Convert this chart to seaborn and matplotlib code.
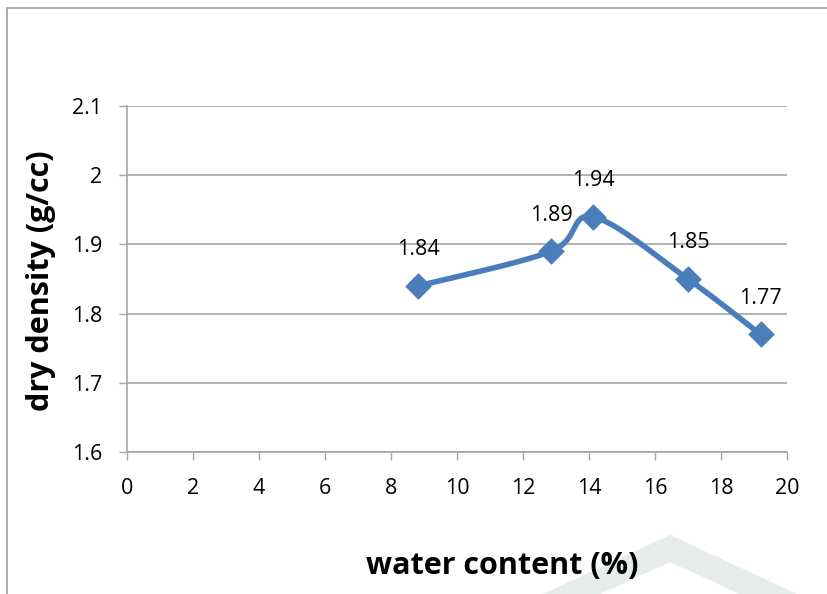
import numpy as np
import pandas as pd
import seaborn as sns
import matplotlib
matplotlib.use("Agg")
import matplotlib.pyplot as plt
from matplotlib.patches import Polygon, Rectangle

# Compaction test results
water_content = [8.82, 12.85, 14.12, 17.0, 19.2]
dry_density = [1.84, 1.89, 1.94, 1.85, 1.77]
x_ticks = [0, 2, 4, 6, 8, 10, 12, 14, 16, 18, 20]
y_ticks = [1.6, 1.7, 1.8, 1.9, 2.0, 2.1]
y_tick_labels = ["1.6", "1.7", "1.8", "1.9", "2", "2.1"]

LINE_BLUE = "#4A7EBB"
GRID_GREY = "#A6A6A6"

sns.set_theme(style="white")
plt.rcParams["font.family"] = ["Open Sans", "DejaVu Sans"]

fig = plt.figure(figsize=(8.28, 5.94), dpi=100)
ax = fig.add_axes([0.1534, 0.239, 0.797, 0.5825])
ax.set_xlim(0, 20)
ax.set_ylim(1.6, 2.1)


def smooth_curve(ax, xs, ys, n=40):
    """Bezier smoothing through the points, computed in display space."""
    fig.canvas.draw()
    pts = ax.transData.transform(np.column_stack([xs, ys]))
    out = []
    m = len(pts)
    for i in range(m - 1):
        p0 = pts[i - 1] if i > 0 else pts[i]
        p1 = pts[i]
        p2 = pts[i + 1]
        p3 = pts[i + 2] if i + 2 < m else pts[i + 1]
        c1 = p1 + (p2 - p0) / 6.0
        c2 = p2 - (p3 - p1) / 6.0
        t = np.linspace(0, 1, n)[:, None]
        seg = ((1 - t) ** 3) * p1 + 3 * ((1 - t) ** 2) * t * c1 + 3 * (1 - t) * t ** 2 * c2 + t ** 3 * p2
        out.append(seg if i == 0 else seg[1:])
    curve = np.vstack(out)
    return ax.transData.inverted().transform(curve)


curve = smooth_curve(ax, water_content, dry_density)
curve_df = pd.DataFrame({"w": curve[:, 0], "d": curve[:, 1]})
sns.lineplot(data=curve_df, x="w", y="d", sort=False, color=LINE_BLUE,
             linewidth=4, ax=ax, zorder=3)

pts_df = pd.DataFrame({"w": water_content, "d": dry_density})
sns.scatterplot(data=pts_df, x="w", y="d", marker="D", s=170, color=LINE_BLUE,
                edgecolor=LINE_BLUE, linewidth=0.5, ax=ax, zorder=4)

for w, d in zip(water_content, dry_density):
    ax.annotate(f"{d:.2f}", (w, d), xytext=(0, 26), textcoords="offset points",
                ha="center", va="center", fontsize=15.5, color="black", zorder=5)

ax.set_xticks(x_ticks)
ax.set_xticklabels([str(v) for v in x_ticks])
ax.set_yticks(y_ticks)
ax.set_yticklabels(y_tick_labels)
ax.tick_params(axis="both", which="both", direction="out", length=6, width=1,
               color=GRID_GREY, labelsize=15.5, labelcolor="black", pad=12,
               bottom=True, left=True)
ax.tick_params(axis="x", pad=13)
ax.yaxis.grid(True, color=GRID_GREY, linewidth=1.2)
ax.xaxis.grid(False)
for side in ("top", "right"):
    ax.spines[side].set_visible(False)
for side in ("left", "bottom"):
    ax.spines[side].set_color(GRID_GREY)
    ax.spines[side].set_linewidth(1.2)

ax.set_xlabel("")
ax.set_ylabel("")
fig.text(0.607, 0.047, "water content (%)", ha="center", va="center",
         fontsize=22, fontweight="bold", color="black")
fig.text(0.049, 0.528, "dry density (g/cc)", ha="center", va="center",
         rotation=90, fontsize=22, fontweight="bold", color="black")

# chart area frame
fig.patches.append(Rectangle((7 / 828, -0.01), 1.0, 1 - 8 / 594 + 0.01,
                             transform=fig.transFigure, fill=False,
                             edgecolor="#A0A0A0", linewidth=1.2, zorder=0))

# faint chevron from the page background
chevron = np.array([[543, 594], [670, 535], [797, 594], [740, 594],
                    [670, 562], [600, 594]], dtype=float)
chevron[:, 0] /= 828
chevron[:, 1] = 1 - chevron[:, 1] / 594
fig.patches.append(Polygon(chevron, closed=True, transform=fig.transFigure,
                           facecolor="#E6EBEC", edgecolor="none", zorder=-1))

fig.savefig("out.png", dpi=100)
